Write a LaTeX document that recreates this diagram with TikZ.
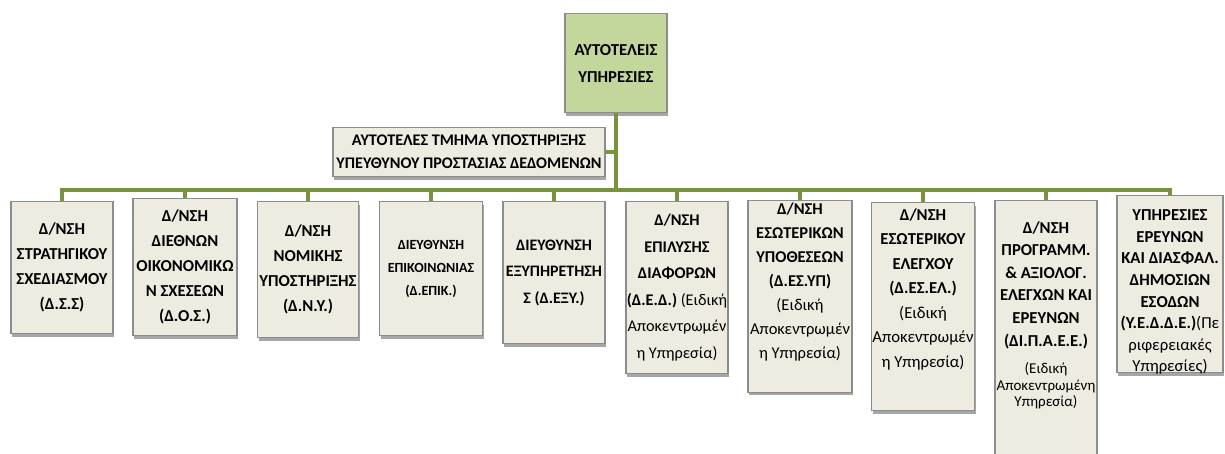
\documentclass[tikz,border=0pt]{standalone}
\usepackage{fontspec}
\setmainfont{Carlito}
\usetikzlibrary{positioning,shadows}

\definecolor{unitfill}{HTML}{EEECE1}
\definecolor{headfill}{HTML}{C3D69B}
\definecolor{unitline}{HTML}{8C8C8C}
\definecolor{busgreen}{HTML}{77933C}

\newcommand{\rg}[1]{{\mdseries #1}}
\newcommand{\sm}[1]{{\mdseries\fontsize{15}{17}\selectfont #1}}
\newcommand{\lift}[1]{\rule[-#1]{0pt}{0pt}}
\newcommand{\dn}[1]{\raisebox{-8pt}[\height][\depth]{#1}}

\begin{document}
\begin{tikzpicture}[x=1pt,y=-1pt,
    unit/.style={draw=unitline, fill=unitfill, line width=1.3pt, align=center,
      anchor=north, inner xsep=0.5pt, inner ysep=2pt,
      font=\bfseries\fontsize{16.7}{#1}\selectfont,
      drop shadow={shadow xshift=1pt, shadow yshift=-3pt, fill=black, opacity=0.35}},
    unit/.default=25,
    link/.style={draw=busgreen, line width=4pt}]
  \useasboundingbox (0,0) rectangle (1225,454);

  % head
  \node[unit=27, fill=headfill, minimum width=102pt, minimum height=99pt] (autot) at (616,13)
    {ΑΥΤΟΤΕΛΕΙΣ\\ΥΠΗΡΕΣΙΕΣ};
  \node[unit=23, font=\bfseries\fontsize{16.2}{23}\selectfont, minimum width=272pt, minimum height=49pt] (dpo) at (469,127)
    {ΑΥΤΟΤΕΛΕΣ ΤΜΗΜΑ ΥΠΟΣΤΗΡΙΞΗΣ\\ΥΠΕΥΘΥΝΟΥ ΠΡΟΣΤΑΣΙΑΣ ΔΕΔΟΜΕΝΩΝ};

  % directorates
  \node[unit, minimum width=102pt, minimum height=132pt] (dss) at (62,201)
    {Δ/ΝΣΗ\\ΣΤΡΑΤΗΓΙΚΟΥ\\ΣΧΕΔΙΑΣΜΟΥ\\(Δ.Σ.Σ)};
  \node[unit, minimum width=104pt, minimum height=137pt] (dos) at (185,198)
    {Δ/ΝΣΗ\\ΔΙΕΘΝΩΝ\\ΟΙΚΟΝΟΜΙΚΩ\\Ν ΣΧΕΣΕΩΝ\\(Δ.Ο.Σ.)};
  \node[unit, minimum width=101pt, minimum height=136pt] (dny) at (308,201)
    {Δ/ΝΣΗ\\ΝΟΜΙΚΗΣ\\ΥΠΟΣΤΗΡΙΞΗΣ\\(Δ.Ν.Υ.)};
  \node[unit, font=\bfseries\fontsize{14}{23}\selectfont, minimum width=103pt, minimum height=134pt] (depik) at (431,201)
    {ΔΙΕΥΘΥΝΣΗ\\ΕΠΙΚΟΙΝΩΝΙΑΣ\\(Δ.ΕΠΙΚ.)};
  \node[unit=26.5, font=\bfseries\fontsize{16}{26.5}\selectfont, minimum width=102pt, minimum height=142pt] (dexy) at (554,201)
    {ΔΙΕΥΘΥΝΣΗ\\ΕΞΥΠΗΡΕΤΗΣΗ\\Σ (Δ.ΕΞΥ.)};
  \node[unit=26.5, font=\bfseries\fontsize{16.3}{26.5}\selectfont, minimum width=102pt, minimum height=172pt] (ded) at (677,201)
    {Δ/ΝΣΗ\\ΕΠΙΛΥΣΗΣ\\ΔΙΑΦΟΡΩΝ\\(Δ.Ε.Δ.) \rg{(Ειδική}\\\rg{Αποκεντρωμέν}\\\rg{η Υπηρεσία)}};
  \node[unit=24, font=\bfseries\fontsize{16.5}{24}\selectfont, minimum width=104pt, minimum height=188pt] (desyp) at (800,200)
    {Δ/ΝΣΗ\\ΕΣΩΤΕΡΙΚΩΝ\\ΥΠΟΘΕΣΕΩΝ\\(Δ.ΕΣ.ΥΠ)\\\rg{(Ειδική}\\\rg{Αποκεντρωμέν}\\\rg{η Υπηρεσία)}\lift{32pt}};
  \node[unit=24.5, minimum width=103pt, minimum height=208pt] (desel) at (923,202)
    {Δ/ΝΣΗ\\ΕΣΩΤΕΡΙΚΟΥ\\ΕΛΕΓΧΟΥ\\(Δ.ΕΣ.ΕΛ.)\\\rg{(Ειδική}\\\rg{Αποκεντρωμέν}\\\rg{η Υπηρεσία)}\lift{38pt}};
  \node[unit=22.6, minimum width=102pt, minimum height=262pt] (dipaee) at (1046,200)
    {Δ/ΝΣΗ\\ΠΡΟΓΡΑΜΜ.\\\& ΑΞΙΟΛΟΓ.\\ΕΛΕΓΧΩΝ ΚΑΙ\\ΕΡΕΥΝΩΝ\\(ΔΙ.Π.Α.Ε.Ε.)\\[5pt]\sm{(Ειδική}\\[-6pt]\sm{Αποκεντρωμένη}\\[-6pt]\sm{Υπηρεσία)}\lift{35pt}};
  \node[unit=21.6, minimum width=106pt, minimum height=177pt] (yedde) at (1170,195)
    {\dn{ΥΠΗΡΕΣΙΕΣ}\\\dn{ΕΡΕΥΝΩΝ}\\\dn{ΚΑΙ ΔΙΑΣΦΑΛ.}\\\dn{ΔΗΜΟΣΙΩΝ}\\\dn{ΕΣΟΔΩΝ}\\
     \dn{(Υ.Ε.Δ.Δ.Ε.)\rg{(Πε}}\\\dn{\rg{ριφερειακές}}\\\dn{\rg{Υπηρεσίες)}}};

  % connectors
  \coordinate (bus) at (616,190);
  \draw[link] (autot.south) -- (bus);
  \draw[link, line width=3.5pt] (dpo.east) -- (dpo.east -| autot.south);
  \foreach \u in {dss,dos,dny,depik,dexy,ded,desyp,desel,dipaee,yedde}
    \draw[link] (bus) -| (\u.north);
\end{tikzpicture}
\end{document}
